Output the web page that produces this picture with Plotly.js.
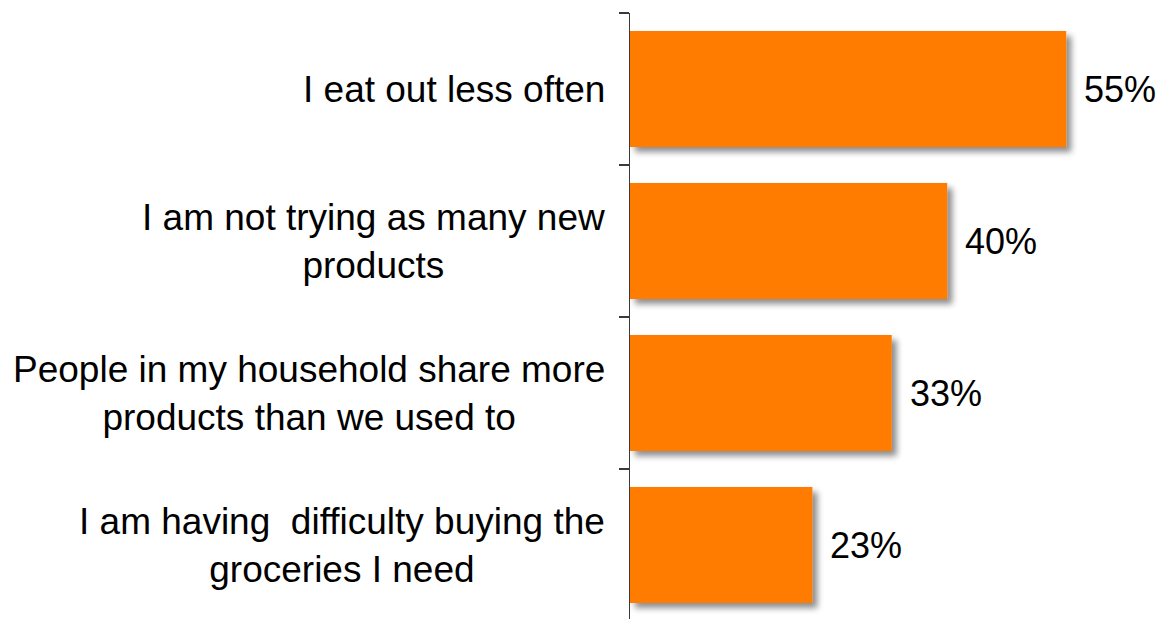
<!DOCTYPE html>
<html>
<head>
<meta charset="utf-8">
<script src="https://cdn.plot.ly/plotly-3.0.1.min.js"></script>
<style>
html,body{margin:0;padding:0;overflow:hidden;background:#fff;}
#chart{width:1159px;height:621px;}
</style>
</head>
<body>
<div id="chart"></div>
<script>
const categories = [
  "I eat out less often",
  "I am not trying as many new<br>products",
  "People in my household share more<br>products than we used to",
  "I am having  difficulty buying the<br>groceries I need"
];
const values = [55, 40, 33, 23];
const valueLabels = ["55%", "40%", "33%", "23%"];

const FONT = "Liberation Sans, Arial, sans-serif";

const trace = {
  type: "bar",
  orientation: "h",
  y: categories.map((c, i) => i),
  x: values,
  marker: {color: "#FF7C00", line: {width: 0}},
  hoverinfo: "none"
};

const annotations = [];
categories.forEach((c, i) => {
  annotations.push({
    xref: "paper", yref: "y", x: 0, y: i,
    xanchor: "right", yanchor: "middle", align: "center",
    xshift: -23,
    text: c, showarrow: false,
    font: {family: FONT, size: 37, color: "#000"}
  });
  annotations.push({
    xref: "x", yref: "y", x: values[i], y: i,
    xanchor: "left", yanchor: "middle",
    xshift: 16,
    text: valueLabels[i], showarrow: false,
    font: {family: FONT, size: 36, color: "#000"}
  });
});

const layout = {
  width: 1159, height: 621,
  margin: {l: 630, r: 0, t: 13, b: 0},
  paper_bgcolor: "#fff", plot_bgcolor: "#fff",
  showlegend: false,
  bargap: 0.237,
  xaxis: {range: [0, 66.7], visible: false, fixedrange: true},
  yaxis: {
    type: "linear",
    range: [3.5, -0.5],
    showgrid: false, zeroline: false,
    showline: true, linecolor: "#3a3a3a", linewidth: 1.5,
    tickmode: "array", tickvals: [-0.5, 0.5, 1.5, 2.5, 3.5], ticktext: ["", "", "", "", ""],
    ticks: "outside", ticklen: 10, tickwidth: 1.5, tickcolor: "#3a3a3a",
    showticklabels: false, fixedrange: true
  },
  annotations: annotations
};

Plotly.newPlot("chart", [trace], layout, {staticPlot: true, displayModeBar: false}).then(() => {
  const svg = document.querySelector("#chart .main-svg");
  const NS = "http://www.w3.org/2000/svg";
  let defs = svg.querySelector("defs");
  if (!defs) { defs = document.createElementNS(NS, "defs"); svg.insertBefore(defs, svg.firstChild); }
  const f = document.createElementNS(NS, "filter");
  f.setAttribute("id", "barshadow");
  f.setAttribute("x", "-10%"); f.setAttribute("y", "-10%");
  f.setAttribute("width", "130%"); f.setAttribute("height", "140%");
  f.innerHTML = '<feGaussianBlur in="SourceAlpha" stdDeviation="3"/>' +
    '<feOffset dx="5" dy="5" result="ob"/>' +
    '<feComponentTransfer><feFuncA type="linear" slope="0.45"/></feComponentTransfer>' +
    '<feMerge><feMergeNode/><feMergeNode in="SourceGraphic"/></feMerge>';
  defs.appendChild(f);
  svg.querySelectorAll(".barlayer .point path").forEach(p => p.setAttribute("filter", "url(#barshadow)"));

  // tighter line spacing for the multi-line category labels
  svg.querySelectorAll(".annotation-text").forEach(t => {
    const lines = t.querySelectorAll("tspan.line");
    const n = lines.length;
    if (n > 1) {
      lines.forEach((ln, i) => ln.setAttribute("dy", (i * 1.2 + (n - 1) * 0.05) + "em"));
    }
  });
});
</script>
</body>
</html>
